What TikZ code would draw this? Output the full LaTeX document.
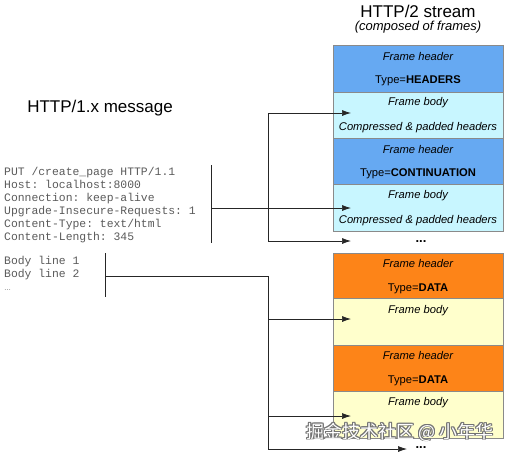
\documentclass[tikz,border=0pt]{standalone}
\usepackage{fontspec}
\setmainfont{Liberation Sans}
\setmonofont{Liberation Mono}
\newfontfamily\cjkfont{Noto Sans CJK SC}
\usetikzlibrary{arrows.meta}
\definecolor{hdrblue}{HTML}{66A9F2}
\definecolor{bodycyan}{HTML}{C8F6FF}
\definecolor{hdrorange}{HTML}{FD8418}
\definecolor{bodyyellow}{HTML}{FFFFCC}
\definecolor{edgegray}{HTML}{8A8A8A}
\definecolor{codegray}{HTML}{5A5A5A}
\tikzset{
  framebox/.style={draw=edgegray, line width=0.6pt, minimum width=170pt, inner sep=0pt, anchor=north west},
  ftext/.style={font=\fontsize{11.2}{13}\selectfont\itshape, inner sep=0pt},
  ttext/.style={font=\fontsize{11.2}{13}\selectfont, inner sep=0pt},
  conn/.style={draw=black!85, line width=0.7pt},
  arr/.style={conn, -{Latex[length=9pt,width=6pt]}},
  code/.style={font=\fontsize{11.4}{13}\selectfont\ttfamily, text=codegray, align=left, inner sep=0pt, anchor=north west},
  dots/.style={font=\fontsize{13}{13}\selectfont\bfseries, inner sep=0pt},
  wmark/.style={font=\fontsize{18}{20}\selectfont\cjkfont, inner sep=0pt},
}
\begin{document}
\begin{tikzpicture}[x=1pt,y=-1pt]
\useasboundingbox (0,0) rectangle (511,459);
% titles
\node[font=\fontsize{17}{19}\selectfont, inner sep=0pt] (t2) at (418,11) {HTTP/2 stream};
\node[font=\fontsize{13}{15}\selectfont\itshape, inner sep=0pt] (t2s) at (418,27.5) {(composed of frames)};
\node[font=\fontsize{17}{19}\selectfont, inner sep=0pt] (t1) at (100,108) {HTTP/1.x message};
% HTTP/2 stream: headers
\node[framebox, fill=hdrblue, minimum height=47pt] (h1) at (333,45) {};
\node[framebox, fill=bodycyan, minimum height=46pt] (b1) at (333,92) {};
\node[framebox, fill=hdrblue, minimum height=46pt] (h2) at (333,138) {};
\node[framebox, fill=bodycyan, minimum height=47pt] (b2) at (333,184) {};
\node[ftext] (h1a) at (418,56.5) {Frame header};
\node[ttext] (h1b) at (418,80.5) {Type=\textbf{HEADERS}};
\node[ftext] (b1a) at (418,102.5) {Frame body};
\node[ftext] (b1b) at (418,128) {Compressed \& padded headers};
\node[ftext] (h2a) at (418,149.5) {Frame header};
\node[ttext] (h2b) at (418,174) {Type=\textbf{CONTINUATION}};
\node[ftext] (b2a) at (418,195.5) {Frame body};
\node[ftext] (b2b) at (418,221) {Compressed \& padded headers};
\node[dots] (dots1) at (421,242) {...};
% data frames
\node[framebox, fill=hdrorange, minimum height=45pt] (d1h) at (333,253) {};
\node[framebox, fill=bodyyellow, minimum height=47pt] (d1b) at (333,298) {};
\node[framebox, fill=hdrorange, minimum height=46pt] (d2h) at (333,345) {};
\node[framebox, fill=bodyyellow, minimum height=47pt] (d2b) at (333,391) {};
\node[ftext] (d1ha) at (418,263.5) {Frame header};
\node[ttext] (d1hb) at (418,289) {Type=\textbf{DATA}};
\node[ftext] (d1ba) at (418,310.5) {Frame body};
\node[ftext] (d2ha) at (418,355.5) {Frame header};
\node[ttext] (d2hb) at (418,381) {Type=\textbf{DATA}};
\node[ftext] (d2ba) at (418,402.5) {Frame body};
% HTTP/1.x message text
\node[code] (hdrs) at (4,167) {PUT /create\_page HTTP/1.1\\Host: localhost:8000\\Connection: keep-alive\\Upgrade-Insecure-Requests: 1\\Content-Type: text/html\\Content-Length: 345};
\node[code] (body) at (4,256) {Body line 1\\Body line 2\\{\fontsize{7}{13}\selectfont\rmfamily …}};
% connector geometry
\coordinate (hbT) at (211,165);
\coordinate (hbB) at (211,243);
\coordinate (hbM) at (211,208);
\coordinate (vT) at (268,113);
\coordinate (vB) at (268,241);
\coordinate (bbT) at (105,253);
\coordinate (bbB) at (105,297);
\coordinate (bbM) at (105,276);
\coordinate (v2T) at (268,276);
\coordinate (v2B) at (268,449);
\coordinate (s4) at (268,319);
\coordinate (s5) at (268,416);
\coordinate (e1) at (351,113);
\coordinate (e2) at (351,208);
\coordinate (e3) at (351,241);
\coordinate (e4) at (351,319);
\coordinate (e5) at (351,416);
\coordinate (e6) at (407,449);
% header bracket
\draw[conn] (hbT) -- (hbB);
\draw[conn] (vT) -- (vB);
\draw[arr] (hbM) -- (e2);
\draw[arr] (vT) -- (e1);
\draw[arr] (vB) -- (e3);
% body bracket
\draw[conn] (bbT) -- (bbB);
\draw[conn] (bbM) -- (v2T) -- (v2B);
\draw[arr] (s4) -- (e4);
\draw[arr] (s5) -- (e5);
\draw[arr] (v2B) -- (e6);
% watermark
\foreach \dx/\dy [count=\i] in {-0.7/0,0.7/0,0/-0.7,0/0.7,0.6/0.6,-0.6/-0.6,0.6/-0.6,-0.6/0.6}{
  \node[wmark, text=black!55] (wms\i) at (400+\dx,432+\dy) {掘金技术社区 @ 小年华};
}
\node[wmark, text=white] (wm) at (400,432) {掘金技术社区 @ 小年华};
\node[dots] (dots2) at (421,448) {...};
\end{tikzpicture}
\end{document}
